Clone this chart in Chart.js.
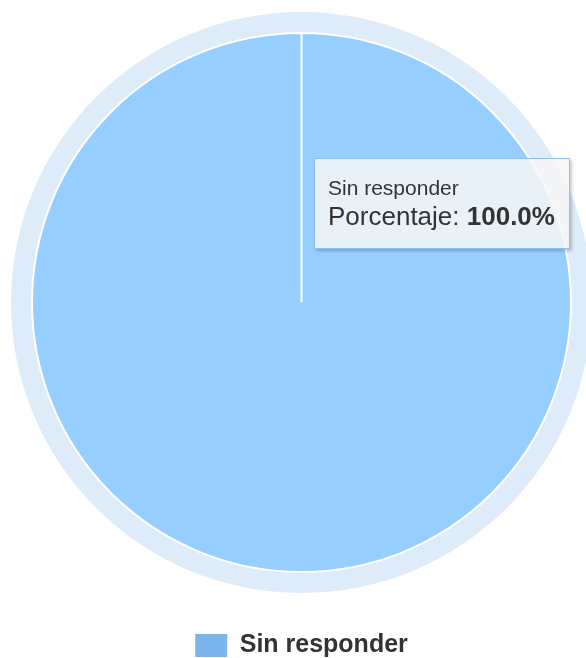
<!DOCTYPE html>
<html>
<head>
<meta charset="utf-8">
<script src="https://cdn.jsdelivr.net/npm/chart.js@4/dist/chart.umd.min.js"></script>
<style>
    html, body { margin: 0; padding: 0; background: #fff; }
    .chart-wrap { position: relative; width: 586px; height: 658px; overflow: hidden; }
    .js-tooltip {
        position: absolute;
        box-sizing: border-box;
        padding: 16px 14px 17px 13px;
        background: rgba(247, 247, 247, 0.85);
        border: 1px solid #8fc0ee;
        box-shadow: 2px 2px 3px rgba(0, 0, 0, 0.2);
        font-family: "Liberation Sans", Arial, sans-serif;
        color: #333;
        white-space: nowrap;
        pointer-events: none;
    }
    .js-tooltip .title { font-size: 21px; line-height: 26px; }
    .js-tooltip .body { font-size: 26px; line-height: 30px; }
    .js-tooltip .body b { font-weight: bold; }
</style>
</head>
<body>
<div class="chart-wrap">
    <canvas class="js-pie-chart"></canvas>
    <div class="js-tooltip" style="display:none"></div>
</div>
<script>
const categories = ['Sin responder'];
const percentages = [100.0];
const seriesName = 'Porcentaje';

// highcharts-like hover halo around the slice
const haloPlugin = {
    id: 'halo',
    beforeDatasetsDraw(chart) {
        const arc = chart.getDatasetMeta(0).data[0];
        if (!arc) return;
        const {x, y, outerRadius} = arc.getProps(['x', 'y', 'outerRadius'], true);
        const ctx = chart.ctx;
        ctx.save();
        ctx.beginPath();
        ctx.arc(x, y, outerRadius + 21, 0, Math.PI * 2);
        ctx.arc(x, y, outerRadius, 0, Math.PI * 2, true);
        ctx.fillStyle = 'rgba(124, 181, 236, 0.25)';
        ctx.fill();
        ctx.restore();
    }
};

// legend sits low, partly clipped by the bottom edge
const legendShift = {
    id: 'legendShift',
    afterInit(chart) {
        const legend = chart.legend;
        const fit = legend.fit;
        legend.fit = function () {
            fit.call(this);
            this.height -= 10;
        };
    }
};

Chart.Tooltip.positioners.cursor = function (items, eventPosition) {
    return eventPosition;
};

function externalTooltip(context) {
    const tooltip = context.tooltip;
    const el = document.querySelector('.js-tooltip');
    if (tooltip.opacity === 0 || !tooltip.dataPoints) {
        el.style.display = 'none';
        return;
    }
    const point = tooltip.dataPoints[0];
    el.innerHTML = '<div class="title">' + point.label + '</div>' +
        '<div class="body">' + seriesName + ': <b>' + point.raw.toFixed(1) + '%</b></div>';
    el.style.left = tooltip.caretX + 'px';
    el.style.top = tooltip.caretY + 'px';
    el.style.display = 'block';
}

function chartConstruct() {
    Chart.defaults.font.family = '"Liberation Sans", Arial, sans-serif';

    let ctx = document.getElementsByClassName('js-pie-chart')[0].getContext('2d');

    // slice is shown in its hovered (brightened) colour, legend keeps the base colour
    let baseColor = '#7cb5ec';
    let hoverColor = '#95ceff';

    let chartData = {
        labels: categories,
        datasets: [{
            label: seriesName,
            data: percentages,
            backgroundColor: hoverColor,
            hoverBackgroundColor: hoverColor,
            borderColor: '#ffffff',
            hoverBorderColor: '#ffffff',
            borderWidth: 2,
            hoverBorderWidth: 2,
            hoverOffset: 0
        }]
    };

    let myChart = new Chart(ctx, {
        type: 'pie',
        data: chartData,
        plugins: [haloPlugin, legendShift],
        options: {
            responsive: true,
            maintainAspectRatio: false,
            animation: false,
            events: [],
            layout: {
                padding: {top: 32, left: 31, right: 14, bottom: 0}
            },
            plugins: {
                legend: {
                    position: 'bottom',
                    labels: {
                        boxWidth: 32,
                        boxHeight: 23,
                        padding: 60,
                        color: '#333333',
                        font: {size: 25, weight: 'bold'},
                        generateLabels(chart) {
                            const items = Chart.overrides.pie.plugins.legend.labels.generateLabels(chart);
                            items.forEach(item => {
                                item.lineWidth = 0;
                                item.fillStyle = baseColor;
                            });
                            return items;
                        }
                    }
                },
                tooltip: {
                    enabled: false,
                    position: 'cursor',
                    external: externalTooltip
                }
            }
        }
    });

    const active = [{datasetIndex: 0, index: 0}];
    myChart.setActiveElements(active);
    myChart.tooltip.setActiveElements(active, {x: 314, y: 158});
}

chartConstruct();
</script>
</body>
</html>
